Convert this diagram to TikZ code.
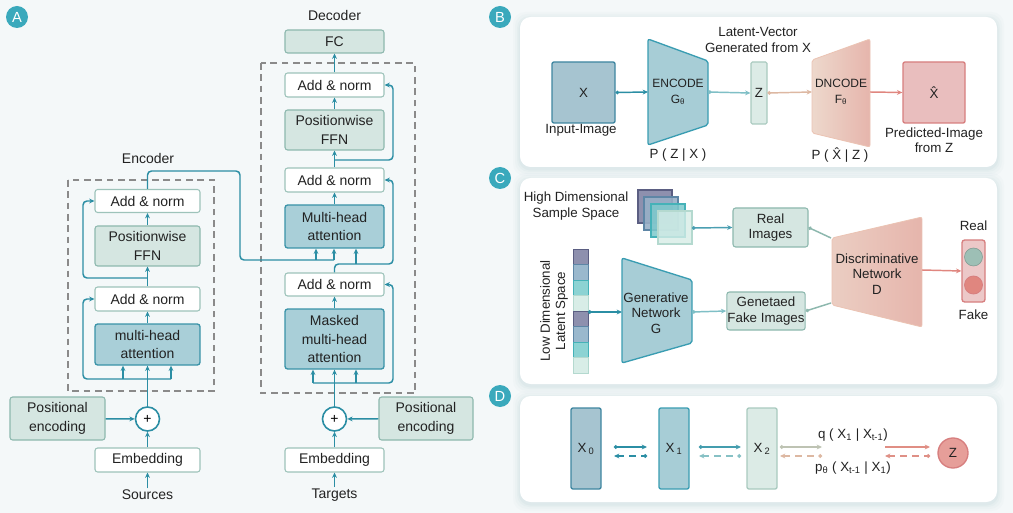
\documentclass[tikz,border=0pt]{standalone}
\usepackage{fontspec}
\setmainfont{Liberation Sans}
\usetikzlibrary{arrows.meta,calc}
\definecolor{cBg}{HTML}{F4F8F9}
\definecolor{cShadow}{HTML}{8FB4BE}
\definecolor{cLine}{HTML}{2B8EA4}
\definecolor{cLab}{HTML}{3AA9BC}
\definecolor{cText}{HTML}{222222}
\definecolor{cWB}{HTML}{9DC3BA}
\definecolor{cGF}{HTML}{D5E6E1}
\definecolor{cGB}{HTML}{8DB8AE}
\definecolor{cTF}{HTML}{A9CFD8}
\definecolor{cTB}{HTML}{3A93A8}
\definecolor{cDash}{HTML}{8A8A8A}
\definecolor{cXF}{HTML}{A6C4D0}
\definecolor{cXB}{HTML}{3F86A0}
\definecolor{cEncF}{HTML}{A7CDD6}
\definecolor{cEncB}{HTML}{3A9DB2}
\definecolor{cZF}{HTML}{DCEBE6}
\definecolor{cZB}{HTML}{A9CABF}
\definecolor{cDecL}{HTML}{EDD8CC}
\definecolor{cDecR}{HTML}{E6B5AC}
\definecolor{cDecB}{HTML}{EBC3B3}
\definecolor{cHatF}{HTML}{E9BEBE}
\definecolor{cHatB}{HTML}{D77F7F}
\definecolor{cRed}{HTML}{E0867F}
\definecolor{cTan}{HTML}{DDB8A2}
\definecolor{cLT}{HTML}{7FBFC6}
\definecolor{cPur}{HTML}{8E90AE}
\definecolor{cPurB}{HTML}{5B5E82}
\definecolor{cBlu}{HTML}{9AB8CD}
\definecolor{cBluB}{HTML}{5E86A6}
\definecolor{cCya}{HTML}{8CD3D3}
\definecolor{cCyaB}{HTML}{45B2B8}
\definecolor{cPal}{HTML}{D8EDE7}
\definecolor{cPalB}{HTML}{B4D9CF}
\definecolor{cGrnC}{HTML}{9DBFB5}
\newcommand\fA{\fontsize{10.5}{14}\selectfont}
\newcommand\fB{\fontsize{10}{11.5}\selectfont}
\newcommand\fC{\fontsize{9}{12}\selectfont}
\newcommand\panelbox[4]{%
  \foreach \k/\o in {7/0.035,5/0.045,3/0.06,1.5/0.08}{%
    \fill[cShadow, opacity=\o, rounded corners=9pt] (#1-\k,#2-\k+2) rectangle (#3+\k,#4+\k+2);}
  \fill[white, rounded corners=8pt] (#1,#2) rectangle (#3,#4);}
\begin{document}
\begin{tikzpicture}[x=0.75pt,y=-0.75pt,
  sz/.style 2 args={minimum width=#1*0.75pt,minimum height=#2*0.75pt},
  base/.style={inner sep=0.5pt, align=center, text=cText, rounded corners=2pt},
  wbox/.style={base, draw=cWB, fill=white, line width=0.8pt, font=\fA},
  gbox/.style={base, draw=cGB, fill=cGF, line width=0.8pt, font=\fA},
  tbox/.style={base, draw=cTB, fill=cTF, line width=1pt, font=\fA},
  ln/.style={draw=cLine, line width=1.1pt},
  arr/.style={ln, -{Stealth[length=4pt,width=3.6pt]}},
  tip/.style={-{Stealth[length=4pt,width=3.6pt]}},
  dotarr/.style={{Circle[length=2.6pt]}-{Stealth[length=4pt,width=3.6pt]}},
  dotln/.style={{Circle[length=2.6pt]}-},
  arrdot/.style={{Stealth[length=4pt,width=3.6pt]}-{Circle[length=2.6pt]}},
  dashbox/.style={draw=cDash, line width=0.8pt, dash pattern=on 5pt off 3.5pt},
  lab/.style={circle, fill=cLab, text=white, minimum size=22*0.75pt, inner sep=0pt, font=\fontsize{11}{11}\selectfont},
  plus/.style={circle, draw=cLine, line width=1.2pt, fill=white, minimum size=24*0.75pt, inner sep=0pt, font=\fA},
  txt/.style={text=cText, align=center, inner sep=1pt},
  cell/.style={line width=0.6pt},
]
\fill[cBg] (0,0) rectangle (1013,513);
\useasboundingbox (0,0) rectangle (1013,513);

% ================= Panel A =================
\node[lab] (labA) at (17,17) {A};
\node[txt, font=\fA] (encT) at (148,158) {Encoder};
\draw[dashbox] (68,180) rectangle (214,391);
\node[wbox, sz={105}{23}] (encAN2) at (147.5,201) {Add \& norm};
\node[gbox, sz={105}{40}] (encFFN) at (147.5,246) {Positionwise\\FFN};
\node[wbox, sz={105}{24}] (encAN1) at (147.5,299) {Add \& norm};
\node[tbox, sz={105}{41}] (encMHA) at (147.5,344.5) {multi-head\\attention};
\node[plus] (encPlus) at (147.5,419) {+};
\node[gbox, sz={95}{43}] (encPE) at (57.5,418.5) {Positional\\encoding};
\node[wbox, sz={105}{24}] (encEmb) at (147.5,460) {Embedding};
\node[txt, font=\fA] (src) at (147.5,495) {Sources};

\node[txt, font=\fA] (decT) at (334.5,16) {Decoder};
\node[gbox, sz={99}{23}] (fc) at (334.5,41.5) {FC};
\draw[dashbox] (261,63) rectangle (415,393);
\node[wbox, sz={99}{24}] (decAN3) at (334.5,85) {Add \& norm};
\node[gbox, sz={99}{40}] (decFFN) at (334.5,130) {Positionwise\\FFN};
\node[wbox, sz={99}{24}] (decAN2) at (334.5,180) {Add \& norm};
\node[tbox, sz={99}{43}] (decMHA) at (334.5,226.5) {Multi-head\\attention};
\node[wbox, sz={99}{23}] (decAN1) at (334.5,284.5) {Add \& norm};
\node[tbox, sz={99}{60}] (decMMHA) at (334.5,339) {Masked\\multi-head\\attention};
\node[plus] (decPlus) at (334.5,419) {+};
\node[gbox, sz={94}{43}] (decPE) at (426,418.5) {Positional\\encoding};
\node[wbox, sz={99}{24}] (decEmb) at (334.5,460) {Embedding};
\node[txt, font=\fA] (tgt) at (334.5,495) {Targets};

% encoder connectors
\draw[arr] (src) -- (encEmb);
\draw[arr] (encEmb) -- (encPlus);
\draw[arr] (encPE) -- (encPlus);
\draw[arr] (encPlus) -- (encMHA);
\coordinate (eL1) at (83,379); \coordinate (eR1) at (171,379); \coordinate (eM1) at (123,379);
\draw[arr, rounded corners=3pt] (eR1) -- (eL1) |- (encAN1.west);
\draw[arr] (eM1) -- (eM1 |- encMHA.south);
\draw[arr] (eR1) -- (eR1 |- encMHA.south);
\draw[arr] (encMHA) -- (encAN1);
\draw[arr] (encAN1) -- (encFFN);
\coordinate (eB2) at (147.5,278); \coordinate (eL2) at (83,278);
\draw[arr, rounded corners=3pt] (eB2) -- (eL2) |- (encAN2.west);
\draw[arr] (encFFN) -- (encAN2);
\coordinate (eT) at (147.5,171); \coordinate (eC1) at (240,171); \coordinate (eC2) at (240,260);
\coordinate (eV) at (334,260); \coordinate (eK) at (316,260);
\draw[ln, rounded corners=3pt] (encAN2.north) -- (eT) -- (eC1) -- (eC2) -- (eV);
\draw[arr] (eK) -- (eK |- decMHA.south);
\draw[arr] (eV) -- (eV |- decMHA.south);

% decoder connectors
\draw[arr] (tgt) -- (decEmb);
\draw[arr] (decEmb) -- (decPlus);
\draw[arr] (decPE) -- (decPlus);
\draw[arr] (decPlus) -- (decMMHA);
\coordinate (dL1) at (313,383); \coordinate (dM1) at (356,383); \coordinate (dR1) at (393,383);
\draw[arr, rounded corners=3pt] (dL1) -- (dR1) |- (decAN1.east);
\draw[arr] (dL1) -- (dL1 |- decMMHA.south);
\draw[arr] (dM1) -- (dM1 |- decMMHA.south);
\draw[arr] (decMMHA) -- (decAN1);
\coordinate (dQ0) at (334.5,264); \coordinate (dQ) at (356,264); \coordinate (dR2) at (393,264);
\draw[arr, rounded corners=3pt] (decAN1.north) -- (dQ0) -- (dR2) |- (decAN2.east);
\draw[arr] (dQ) -- (dQ |- decMHA.south);
\draw[arr] (decMHA) -- (decAN2);
\coordinate (dB3) at (334.5,160); \coordinate (dR3) at (393,160);
\draw[arr, rounded corners=3pt] (dB3) -- (dR3) |- (decAN3.east);
\draw[arr] (decAN2) -- (decFFN);
\draw[arr] (decFFN) -- (decAN3);
\draw[arr] (decAN3) -- (fc);

% ================= Panels =================
\panelbox{520}{17}{997}{167}
\panelbox{520}{178}{997}{384}
\panelbox{520}{396}{997}{502}
\node[lab] (labB) at (500,17) {B};
\node[lab] (labC) at (500,178) {C};
\node[lab] (labD) at (500,396) {D};

% ================= Panel B =================
\node[base, draw=cXB, fill=cXF, line width=1pt, sz={63}{61}, rounded corners=1.5pt, font=\fB] (bX) at (583.5,92.5) {X};
\node[txt, font=\fB] (bXl) at (581,130) {Input-Image};
\filldraw[fill=cEncF, draw=cEncB, line width=1pt, rounded corners=1.5pt] (648,39) -- (708,61) -- (708,125) -- (648,145) -- cycle;
\node[txt, font=\fC] (bEnc) at (678,92) {ENCODE\\G\textsubscript{θ}};
\coordinate (bEncL) at (648,92); \coordinate (bEncR) at (708,92);
\node[txt, font=\fB] (bPzx) at (678,155) {P ( Z | X )};
\node[base, draw=cZB, fill=cZF, line width=0.8pt, sz={16}{62}, rounded corners=1pt, font=\fB] (bZ) at (759,93) {Z};
\node[txt, font=\fB] (bLat) at (758,40) {Latent-Vector\\Generated from X};
\shade[left color=cDecL, right color=cDecR, rounded corners=1.5pt] (812,60) -- (870,39) -- (870,147) -- (812,133) -- cycle;
\draw[cDecB, line width=0.6pt, rounded corners=1.5pt] (812,60) -- (870,39) -- (870,147) -- (812,133) -- cycle;
\node[txt, font=\fC] (bDec) at (841,92) {DNCODE\\F\textsubscript{θ}};
\coordinate (bDecL) at (812,92); \coordinate (bDecR) at (870,92);
\node[txt, font=\fB] (bPxz) at (840,155) {P ( \^{X} | Z )};
\node[base, draw=cHatB, fill=cHatF, line width=1pt, sz={62}{61}, rounded corners=1.5pt, font=\fB] (bXh) at (934,92.5) {\^{X}};
\node[txt, font=\fB] (bXhl) at (934,140) {Predicted-Image\\from Z};
\draw[dotarr, draw=cLine, line width=1.1pt] (bX.east) -- (bEncL);
\draw[dotarr, draw=cLT, line width=1.1pt] (bEncR) -- (bZ.west);
\draw[dotarr, draw=cTan, line width=1.1pt] (bZ.east) -- (bDecL);
\draw[tip, draw=cRed, line width=1.1pt] (bDecR) -- (bXh.west);

% ================= Panel C =================
\node[txt, font=\fB] (cHigh) at (576,206) {High Dimensional\\Sample Space};
\filldraw[fill=cPur, draw=cPurB, line width=0.8pt] (638,190) rectangle (672,223);
\filldraw[fill=cBlu!80!cPur, draw=cBluB, line width=0.8pt, fill opacity=0.9] (644,197) rectangle (678,230);
\filldraw[fill=cCya!85!cLine, draw=cCyaB, line width=0.8pt, fill opacity=0.85] (651,204) rectangle (685,237);
\filldraw[fill=cPal, draw=cPalB, line width=0.8pt, fill opacity=0.8] (658,211) rectangle (692,244);
\coordinate (cSq) at (692,228);
\node[base, draw=cGB, fill=cGF, line width=0.8pt, sz={75}{39}, font=\fB] (cReal) at (770.5,227.5) {Real\\Images};
\node[base, draw=cGB, fill=cGF, line width=0.8pt, sz={78}{38}, font=\fB] (cFake) at (766,311) {Genetaed\\Fake Images};
\foreach \i/\cf/\cb in {0/cPur/cPurB,1/cBlu/cBluB,2/cCya/cCyaB,3/cPal/cPalB,4/cPur/cPurB,5/cBlu/cBluB,6/cCya/cCyaB,7/cPal/cPalB}{
  \filldraw[cell, fill=\cf, draw=\cb] (573,249+15.5*\i) rectangle (588,264.5+15.5*\i);}
\node[txt, font=\fB, rotate=90] (cLow) at (554,311) {Low Dimensional\\Latent Space};
\coordinate (cLat) at (588,312);
\filldraw[fill=cEncF, draw=cEncB, line width=1pt, rounded corners=1.5pt] (622,258) -- (692,280) -- (692,343) -- (622,363) -- cycle;
\node[txt, font=\fB] (cGen) at (656,313) {Generative\\Network\\G};
\coordinate (cGenL) at (622,312); \coordinate (cGenR) at (692,312);
\shade[left color=cDecL!70!cDecR, right color=cDecR, rounded corners=1.5pt] (832,238) -- (922,217) -- (922,327) -- (832,305) -- cycle;
\draw[cDecB, line width=0.6pt, rounded corners=1.5pt] (832,238) -- (922,217) -- (922,327) -- (832,305) -- cycle;
\node[txt, font=\fB] (cDis) at (877,274) {Discriminative\\Network\\D};
\coordinate (cDisA) at (831,238); \coordinate (cDisB) at (831,303); \coordinate (cDisR) at (922,270);
\node[base, draw=cHatB, fill=cHatF!85!white, line width=1pt, sz={23}{62}, rounded corners=2pt] (cOut) at (973.5,271) {};
\node[circle, fill=cGrnC, draw=cGrnC!80!black, line width=0.4pt, minimum size=18*0.75pt, inner sep=0pt] (cRealC) at (973.5,257) {};
\node[circle, fill=cRed, draw=cHatB, line width=0.6pt, minimum size=18*0.75pt, inner sep=0pt] (cFakeC) at (973.5,285) {};
\node[txt, font=\fB] (cRealT) at (973.5,226) {Real};
\node[txt, font=\fB] (cFakeT) at (973.5,315) {Fake};
\draw[dotarr, draw=cLine!85!white, line width=1.1pt] (cSq) -- (cReal.west);
\draw[dotarr, draw=cLine, line width=1.1pt] (cLat) -- (cGenL);
\draw[dotarr, draw=cLT, line width=1.1pt] (cGenR) -- (cFake.west);
\draw[dotln, draw=cGB, line width=1.1pt] (cReal.east) -- (cDisA);
\draw[dotln, draw=cGB, line width=1.1pt] (cFake.east) -- (cDisB);
\draw[tip, draw=cRed, line width=1.1pt] (cDisR) -- (cOut.west);

% ================= Panel D =================
\node[base, draw=cXB, fill=cXF, line width=1pt, sz={30}{81}, rounded corners=1.5pt, font=\fB] (dX0) at (586,448.5) {X\,\textsubscript{0}};
\node[base, draw=cEncB, fill=cEncF, line width=1pt, sz={30}{81}, rounded corners=1.5pt, font=\fB] (dX1) at (674,448.5) {X\,\textsubscript{1}};
\node[base, draw=cZB, fill=cZF, line width=1pt, sz={30}{81}, rounded corners=1.5pt, font=\fB] (dX2) at (762,448.5) {X\,\textsubscript{2}};
\node[circle, draw=cHatB, fill=cRed!80!white, line width=1pt, minimum size=30*0.75pt, inner sep=0pt, font=\fB, text=cText] (dZ) at (953,453) {Z};
\coordinate (a1) at (614,447); \coordinate (a2) at (647,447);
\coordinate (b1) at (614,456); \coordinate (b2) at (647,456);
\coordinate (a3) at (699,447); \coordinate (a4) at (741,447);
\coordinate (b3) at (699,456); \coordinate (b4) at (741,456);
\coordinate (a5) at (780,447); \coordinate (a6) at (822,447);
\coordinate (b5) at (780,456); \coordinate (b6) at (822,456);
\coordinate (a7) at (885,447); \coordinate (a8) at (930,447);
\coordinate (b7) at (885,456); \coordinate (b8) at (930,456);
\draw[dotarr, draw=cLine, line width=1.1pt] (a1) -- (a2);
\draw[arrdot, draw=cLine, line width=1.1pt, dash pattern=on 5pt off 4pt] (b1) -- (b2);
\draw[dotarr, draw=cLine!70!cLT, line width=1.1pt] (a3) -- (a4);
\draw[arrdot, draw=cLT!80!cZB, line width=1.1pt, dash pattern=on 5pt off 4pt] (b3) -- (b4);
\draw[dotarr, draw=cZB!60!cTan, line width=1.1pt] (a5) -- (a6);
\draw[arrdot, draw=cTan, line width=1.1pt, dash pattern=on 5pt off 4pt] (b5) -- (b6);
\draw[tip, draw=cRed!85!cTan, line width=1.1pt] (a7) -- (a8);
\draw[arrdot, draw=cRed!80!cTan, line width=1.1pt, dash pattern=on 5pt off 4pt] (b7) -- (b8);
\node[txt, font=\fB] (dq) at (853,435) {q ( X\textsubscript{1} | X\textsubscript{t-1})};
\node[txt, font=\fB] (dp) at (853,468) {p\textsubscript{θ} ( X\textsubscript{t-1} | X\textsubscript{1})};
\end{tikzpicture}
\end{document}
